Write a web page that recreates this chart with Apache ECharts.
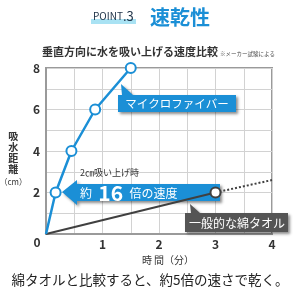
<!DOCTYPE html>
<html>
<head>
<meta charset="utf-8">
<script src="https://cdn.jsdelivr.net/npm/echarts@6/dist/echarts.min.js"></script>
<style>
  html, body { margin: 0; padding: 0; background: #fff; }
  #chart { width: 300px; height: 300px; }
</style>
</head>
<body>
<div id="chart"></div>
<script>
// 吸水距離 (cm) vs 時間 (分)
const microTime = [0, 0.17, 0.45, 0.87, 1.5]
const microDist = [0, 2, 4, 6, 8]
const towelTime = [0, 3]
const towelDist = [0, 2]
const towelExtTime = [3, 4]
const towelExtDist = [2, 2.6]
const xTicks = [1, 2, 3, 4]
const yTicks = [2, 4, 6, 8]

const BLUE = '#1b8fd6'
const DARK = '#404040'
const FONT = '"Noto Sans CJK JP", "Noto Sans", sans-serif'
const shadow = { shadowBlur: 3, shadowColor: 'rgba(0,0,0,0.45)', shadowOffsetX: 2, shadowOffsetY: 2 }

const zip = (xs, ys) => xs.map((x, i) => [x, ys[i]])

const chart = echarts.init(document.getElementById('chart'))

const option = {
  animation: false,
  backgroundColor: '#fff',
  textStyle: { fontFamily: FONT },
  grid: {
    left: 46, right: 28, top: 68, bottom: 66,
    outerBoundsMode: 'none', containLabel: false,
    show: true, backgroundColor: '#fff', borderColor: '#9a9a9a', borderWidth: 2
  },
  xAxis: {
    type: 'value', min: 0, max: 4, interval: 0.5,
    name: '時 間（分）', nameLocation: 'middle', nameGap: 18,
    nameTextStyle: { color: '#333', fontSize: 10, padding: [0, 0, 0, 18] },
    axisLine: { lineStyle: { color: '#9a9a9a', width: 2 } },
    axisTick: { show: false },
    axisLabel: {
      margin: 4, color: '#333', fontSize: 12, fontWeight: 'bold',
      formatter: v => xTicks.includes(v) ? String(v) : ''
    },
    splitLine: { lineStyle: { color: '#d2d2d2', width: 1 } }
  },
  yAxis: {
    type: 'value', min: 0, max: 8, interval: 1,
    name: '{a|吸\n水\n距\n離}\n{b|（cm）}', nameLocation: 'middle', nameGap: 30, nameRotate: 0,
    nameTextStyle: {
      align: 'center', padding: [18, 0, 0, 0],
      rich: {
        a: { fontSize: 10, fontWeight: 'bold', color: '#333', lineHeight: 11, align: 'center' },
        b: { fontSize: 8, color: '#333', lineHeight: 14, align: 'center' }
      }
    },
    axisLine: { show: true, lineStyle: { color: '#9a9a9a', width: 2 } },
    axisTick: { show: false },
    axisLabel: {
      margin: 6, color: '#333', fontSize: 12, fontWeight: 'bold',
      formatter: v => yTicks.includes(v) ? String(v) : ''
    },
    splitLine: { lineStyle: { color: '#d2d2d2', width: 1 } }
  },
  series: [
    {
      type: 'line', z: 3,
      data: zip(towelExtTime, towelExtDist),
      showSymbol: false,
      lineStyle: { color: DARK, width: 2, type: 'dotted' }
    },
    {
      type: 'line', z: 4,
      data: zip(towelTime, towelDist).map((p, i) => i === 0 ? { value: p, symbol: 'none' } : p),
      symbol: 'circle', symbolSize: 10,
      lineStyle: { color: DARK, width: 2 },
      itemStyle: { color: '#fff', borderColor: DARK, borderWidth: 2 }
    },
    {
      type: 'line', z: 5,
      data: zip(microTime, microDist).map((p, i) => i === 0 ? { value: p, symbol: 'none' } : p),
      symbol: 'circle', symbolSize: 10,
      lineStyle: { color: BLUE, width: 2.5 },
      itemStyle: { color: '#fff', borderColor: BLUE, borderWidth: 2 }
    }
  ],
  graphic: [
    // title
    { type: 'rect', shape: { x: 91, y: 19, width: 45, height: 5 }, style: { fill: '#a9e2f3' } },
    {
      type: 'text', x: 93, y: 23,
      style: {
        text: '{p|POINT}{n|.3}', textVerticalAlign: 'bottom',
        rich: {
          p: { fontSize: 10, fill: '#22354a', fontFamily: FONT },
          n: { fontSize: 13, fill: '#22354a', fontFamily: FONT }
        }
      }
    },
    {
      type: 'text', x: 150, y: 17,
      style: { text: '速乾性', fill: BLUE, fontSize: 20, fontWeight: 'bold', fontFamily: FONT, verticalAlign: 'middle' }
    },
    {
      type: 'text', x: 42, y: 52,
      style: { text: '垂直方向に水を吸い上げる速度比較', fill: '#333', fontSize: 11, fontWeight: 'bold', fontFamily: FONT, verticalAlign: 'middle' }
    },
    {
      type: 'text', x: 220, y: 54,
      style: { text: '※メーカー試験による', fill: '#444', fontSize: 5.5, fontFamily: FONT, verticalAlign: 'middle' }
    },
    // big arrow
    {
      type: 'polygon', z: 1,
      shape: { points: [[62, 192], [77, 180], [77, 184], [220, 184], [220, 201], [77, 201], [77, 205]] },
      style: Object.assign({ fill: BLUE }, shadow)
    },
    {
      type: 'text', z: 2, x: 80, y: 193,
      style: {
        text: '{a|約} {b|16} {a|倍の速度}', verticalAlign: 'middle',
        rich: {
          a: { fontSize: 12, fill: '#fff', fontFamily: FONT },
          b: { fontSize: 21, fontWeight: 'bold', fill: '#fff', fontFamily: FONT, padding: [0, 3, 0, 3] }
        }
      }
    },
    {
      type: 'text', z: 2, x: 80, y: 173,
      style: { text: '2㎝吸い上げ時', fill: '#333', fontSize: 9, fontFamily: FONT, verticalAlign: 'middle' }
    },
    // callouts
    {
      type: 'polygon', z: 10,
      shape: { points: [[121, 84], [133, 95], [236, 95], [236, 112], [118, 112], [118, 95], [122, 95]] },
      style: Object.assign({ fill: BLUE }, shadow)
    },
    {
      type: 'text', z: 11, x: 177, y: 104,
      style: { text: 'マイクロファイバー', fill: '#fff', fontSize: 11.5, fontFamily: FONT, align: 'center', verticalAlign: 'middle' }
    },
    {
      type: 'polygon', z: 10,
      shape: { points: [[190, 204], [200, 213], [288, 213], [288, 232], [185, 232], [185, 213], [191, 213]] },
      style: Object.assign({ fill: '#555' }, shadow)
    },
    {
      type: 'text', z: 11, x: 237, y: 223,
      style: { text: '一般的な綿タオル', fill: '#fff', fontSize: 12, fontFamily: FONT, align: 'center', verticalAlign: 'middle' }
    },
    // origin label
    {
      type: 'text', x: 37, y: 242,
      style: { text: '0', fill: '#333', fontSize: 12, fontWeight: 'bold', fontFamily: FONT, align: 'center', verticalAlign: 'middle' }
    },
    // caption
    {
      type: 'text', x: 150, y: 280,
      style: { text: '綿タオルと比較すると、約5倍の速さで乾く。', fill: '#222', fontSize: 13.5, fontFamily: FONT, align: 'center', verticalAlign: 'middle' }
    }
  ]
}

chart.setOption(option)
</script>
</body>
</html>
